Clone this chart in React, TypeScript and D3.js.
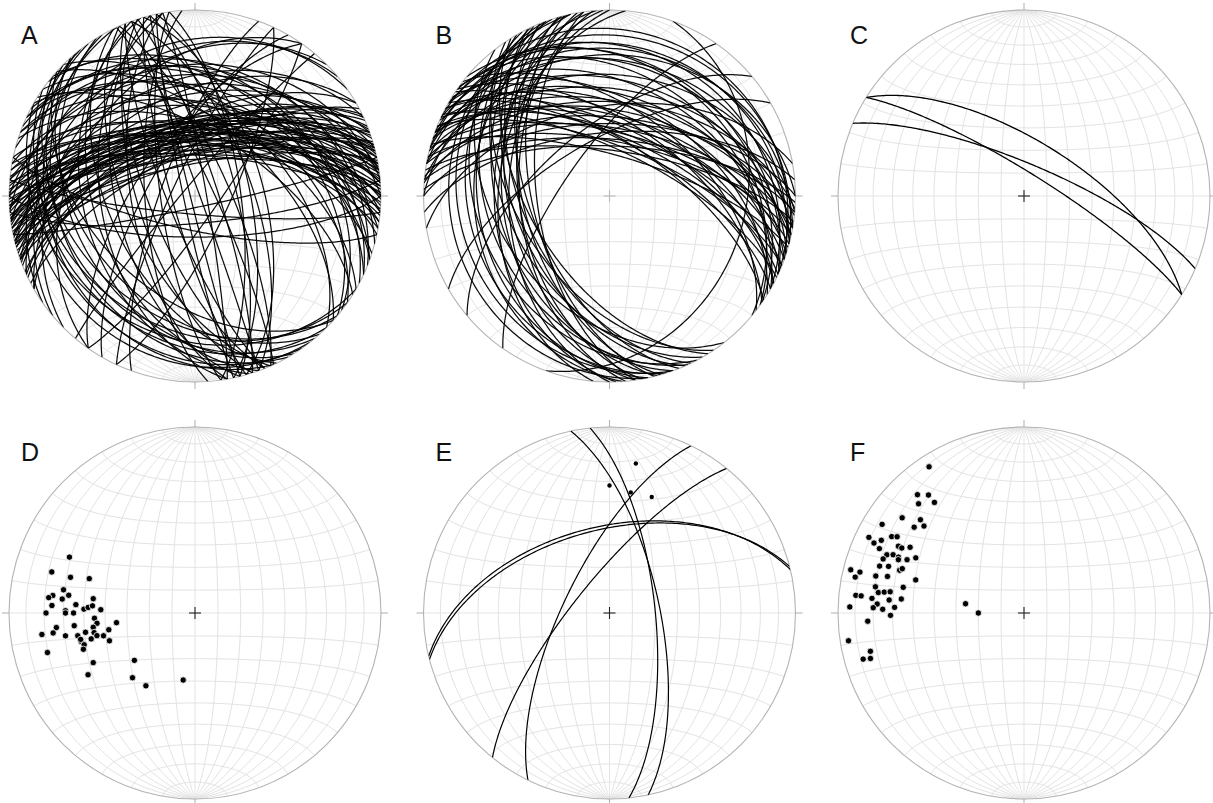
import React from "react";
import * as d3 from "d3";

// ---------- DATA ----------
// Planes given as [dip direction, dip] (degrees), poles/lineations as [trend, plunge]
const panelLabels = ["A", "B", "C", "D", "E", "F"];

const planesA: [number, number][] = [
  [345,62],[348,65],[350,60],[352,66],[355,63],[358,68],[340,64],[342,58],[346,70],[350,72],
  [353,59],[356,61],[360,65],[3,62],[6,67],[338,60],[336,66],[344,68],[347,56],[351,57],
  [354,70],[357,74],[1,58],[5,60],[8,64],[335,62],[332,70],[340,72],[343,75],[349,76],
  [352,55],[356,57],[359,72],[2,70],[10,66],[12,60],[330,58],[334,64],[346,60],[350,64],
  [348,58],[353,68],[341,66],[344,61],[357,66],[0,62],[4,72],[8,58],[339,56],[345,72],
  [345,45],[352,40],[0,35],[10,48],[20,42],[340,50],[335,38],[355,30],[15,32],[5,50],[25,35],[330,45],
  [20,50],[25,45],[30,55],[35,48],[40,40],[28,38],[45,52],[18,58],[32,62],[38,35],[22,30],[42,58],
  [315,30],[320,25],[305,35],[325,20],
  [72,80],[76,72],[70,65],[80,85],[74,60],[66,75],[82,70],[70,88],[78,66],[65,82],
  [252,65],[256,55],[248,70],[260,48],[254,80],[246,60],[262,75],[250,45],[258,85],[244,52],
  [260,62],[253,40],[248,78],[266,68],[256,88],
  [115,75],[125,80],[300,70],[295,80],[305,65],[290,75],[310,85],
  [225,25],[230,30],[220,35],[235,20],[240,28],[215,30],[228,40],[245,22],[232,15],[222,45],
  [238,35],[210,25],
  [175,78],[185,82],[180,72],[168,85],[192,75],
];

const planesB: [number, number][] = [
  [10,60],[15,62],[20,58],[25,64],[18,55],[22,68],[28,60],[30,66],[35,58],[12,52],
  [5,65],[0,58],[355,62],[8,70],[14,48],[24,50],[32,48],[38,52],[26,70],[16,72],
  [20,45],[30,40],[10,42],[4,48],[36,35],[25,30],[15,28],[5,35],[350,50],[18,38],
  [28,55],[34,66],[12,66],[22,62],[6,55],[2,68],
  [20,20],[30,22],[15,15],[35,28],[25,12],[10,22],[40,30],[0,25],
  [250,40],[255,45],[245,35],[260,50],[258,30],[248,55],[252,25],[262,42],[240,45],[244,52],
  [256,56],[265,50],[268,38],[236,50],[242,30],[254,52],[246,48],[270,45],[238,55],[262,58],
  [250,20],[258,15],[232,40],[266,28],[275,40],
  [305,70],[320,60],[330,65],[110,28],
];

const planesC: [number, number][] = [[32,66],[32,80],[23,76]];

const planesE: [number, number][] = [
  [345.5,53],[346.5,51.5],[309,75],[296,70],[78,68],[84,70],
];

const pointsD: [number, number][] = [
  [294,27],[286,21],[286,31],[288,40],[280,29],[277,24],[276,22],[276,29],[278,32],[278,44],
  [273,24],[274,36],[272,40],[273,42],[274,44],[272,48],[270,21],[271,31],[270,35],[267,45],
  [263,55],[264,35],[264,26],[264,46],[262,44],[262,18],[262,24],[260,30],[259,36],[260,40],
  [259,44],[257,45],[256,48],[256,42],[256,37],[259,51],[252,50],[254,38],[252,37],[255,19],
  [244,39],[232,56],[240,34],[224,50],[214,51],[190,60],[270,31],[257,37],
];

const pointsE: [number, number][] = [[10,19.5],[0,32],[10,34.5],[20,34]];

const pointsF: [number, number][] = [
  [327,7],[318,15.5],[321,19.5],[316,19.5],[321,24.5],[308,18],[312,26],[311,29.5],[308,26],[302,11],
  [296,8],[300,19],[301,21.5],[295,12],[297,15],[294,16],[298,24.5],[298,26.5],[300,30],[293,21],
  [294,24],[294,27],[291,20],[293,27.5],[294.5,31.5],[297,35],[288,19.5],[289,24],[289,30],[290,31],
  [284,4.5],[284,10],[282,8],[284,19],[285,25],[287,39],[280,20],[282,34],[278,22],[278.5,25],
  [279,28],[276,10],[276,13],[275.5,19],[275.5,28],[276.5,34],[273.5,22],[272,20],[271.5,25],[272.5,31],
  [272,7],[269,29],[267,17],[261,5],[256,16],[253.5,15],[254,11],[279,64],[270,70],
];

// ---------- GEOMETRY ----------
const rad = Math.PI / 180;
const deg = 180 / Math.PI;

// direction (North, East, Down) -> [lon, lat] on an equatorial-aspect equal-area net centred on the nadir
function vecToLonLat(n: number, e: number, dn: number): [number, number] {
  const lat = Math.asin(Math.max(-1, Math.min(1, n))) * deg;
  const lon = Math.atan2(e, dn) * deg;
  return [lon, lat];
}

function lineToLonLat(trend: number, plunge: number): [number, number] {
  const t = trend * rad, p = plunge * rad;
  return vecToLonLat(Math.cos(p) * Math.cos(t), Math.cos(p) * Math.sin(t), Math.sin(p));
}

function planeLonLat(dd: number, dip: number): [number, number][] {
  const st = (dd - 90) * rad;
  const s = [Math.cos(st), Math.sin(st), 0];
  const dr = dd * rad, dp = dip * rad;
  const dv = [Math.cos(dp) * Math.cos(dr), Math.cos(dp) * Math.sin(dr), Math.sin(dp)];
  const out: [number, number][] = [];
  for (let a = 0; a <= 180; a += 1) {
    const c = Math.cos(a * rad), sn = Math.sin(a * rad);
    out.push(vecToLonLat(c * s[0] + sn * dv[0], c * s[1] + sn * dv[1], Math.max(0, c * s[2] + sn * dv[2])));
  }
  return out;
}

const R = 186;
const centers: [number, number][] = [
  [195, 196], [609.5, 196], [1024, 196],
  [195, 613], [609.5, 613], [1024, 613],
];

type NetProps = {
  cx: number; cy: number; label: string;
  planes?: [number, number][];
  points?: [number, number][];
  pointR?: number; pointStroke?: string;
  crossColor: string; lineWidth: number; lineOpacity: number;
};

function Net({ cx, cy, label, planes = [], points = [], pointR = 3, pointStroke = "none", crossColor, lineWidth, lineOpacity }: NetProps) {
  const proj = d3.geoAzimuthalEqualArea().scale(R / Math.SQRT2).translate([cx, cy]).rotate([0, 0]);
  const line = d3.line<[number, number]>().x(d => d[0]).y(d => d[1]);
  const projLine = (pts: [number, number][]) => line(pts.map(p => proj(p) as [number, number])) || "";

  const grid: string[] = [];
  for (let lon = -80; lon <= 80; lon += 10) {
    const pts: [number, number][] = [];
    for (let lat = -90; lat <= 90; lat += 2) pts.push([lon, lat]);
    grid.push(projLine(pts));
  }
  for (let lat = -80; lat <= 80; lat += 10) {
    const pts: [number, number][] = [];
    for (let lon = -90; lon <= 90; lon += 2) pts.push([lon, lat]);
    grid.push(projLine(pts));
  }
  const clipId = "clip" + label;
  const tick = 7;
  return (
    <g>
      <defs>
        <clipPath id={clipId}><circle cx={cx} cy={cy} r={R} /></clipPath>
      </defs>
      <g stroke="#e3e3e3" strokeWidth={1} fill="none">
        {grid.map((d, i) => <path key={i} d={d} />)}
      </g>
      <circle cx={cx} cy={cy} r={R} fill="none" stroke="#b4b4b4" strokeWidth={1.1} />
      <g stroke="#b4b4b4" strokeWidth={1.1}>
        <line x1={cx} x2={cx} y1={cy - R - tick} y2={cy - R} />
        <line x1={cx} x2={cx} y1={cy + R} y2={cy + R + tick} />
        <line x1={cx - R - tick} x2={cx - R} y1={cy} y2={cy} />
        <line x1={cx + R} x2={cx + R + tick} y1={cy} y2={cy} />
      </g>
      <g stroke={crossColor} strokeWidth={1.1}>
        <line x1={cx - 6} x2={cx + 6} y1={cy} y2={cy} />
        <line x1={cx} x2={cx} y1={cy - 6} y2={cy + 6} />
      </g>
      <g clipPath={`url(#${clipId})`} fill="none" stroke="#000" strokeWidth={lineWidth} strokeOpacity={lineOpacity}>
        {planes.map((p, i) => <path key={i} d={projLine(planeLonLat(p[0], p[1]))} />)}
      </g>
      <g>
        {points.map((p, i) => {
          const xy = proj(lineToLonLat(p[0], p[1])) as [number, number];
          return <circle key={i} cx={xy[0]} cy={xy[1]} r={pointR} fill="#000" stroke={pointStroke} strokeWidth={0.8} />;
        })}
      </g>
      <text x={cx - 174} y={cy - 152} fontFamily="'Liberation Sans', Arial, sans-serif" fontSize={25} fill="#111">{label}</text>
    </g>
  );
}

export default function App() {
  return (
    <div style={{ position: "absolute", left: 0, top: 0 }}>
      <svg width={1213} height={803} viewBox="0 0 1213 803" style={{ display: "block", background: "#fff" }}>
        <rect width={1213} height={803} fill="#fff" />
        <Net cx={centers[0][0]} cy={centers[0][1]} label={panelLabels[0]} planes={planesA} crossColor="#bbb" lineWidth={1.25} lineOpacity={0.95} />
        <Net cx={centers[1][0]} cy={centers[1][1]} label={panelLabels[1]} planes={planesB} crossColor="#bbb" lineWidth={1.25} lineOpacity={0.95} />
        <Net cx={centers[2][0]} cy={centers[2][1]} label={panelLabels[2]} planes={planesC} crossColor="#222" lineWidth={1.3} lineOpacity={1} />
        <Net cx={centers[3][0]} cy={centers[3][1]} label={panelLabels[3]} points={pointsD} pointR={3.2} pointStroke="#fff" crossColor="#222" lineWidth={1} lineOpacity={1} />
        <Net cx={centers[4][0]} cy={centers[4][1]} label={panelLabels[4]} planes={planesE} points={pointsE} pointR={2.2} crossColor="#222" lineWidth={1.2} lineOpacity={1} />
        <Net cx={centers[5][0]} cy={centers[5][1]} label={panelLabels[5]} points={pointsF} pointR={3.2} pointStroke="#fff" crossColor="#222" lineWidth={1} lineOpacity={1} />
      </svg>
    </div>
  );
}
